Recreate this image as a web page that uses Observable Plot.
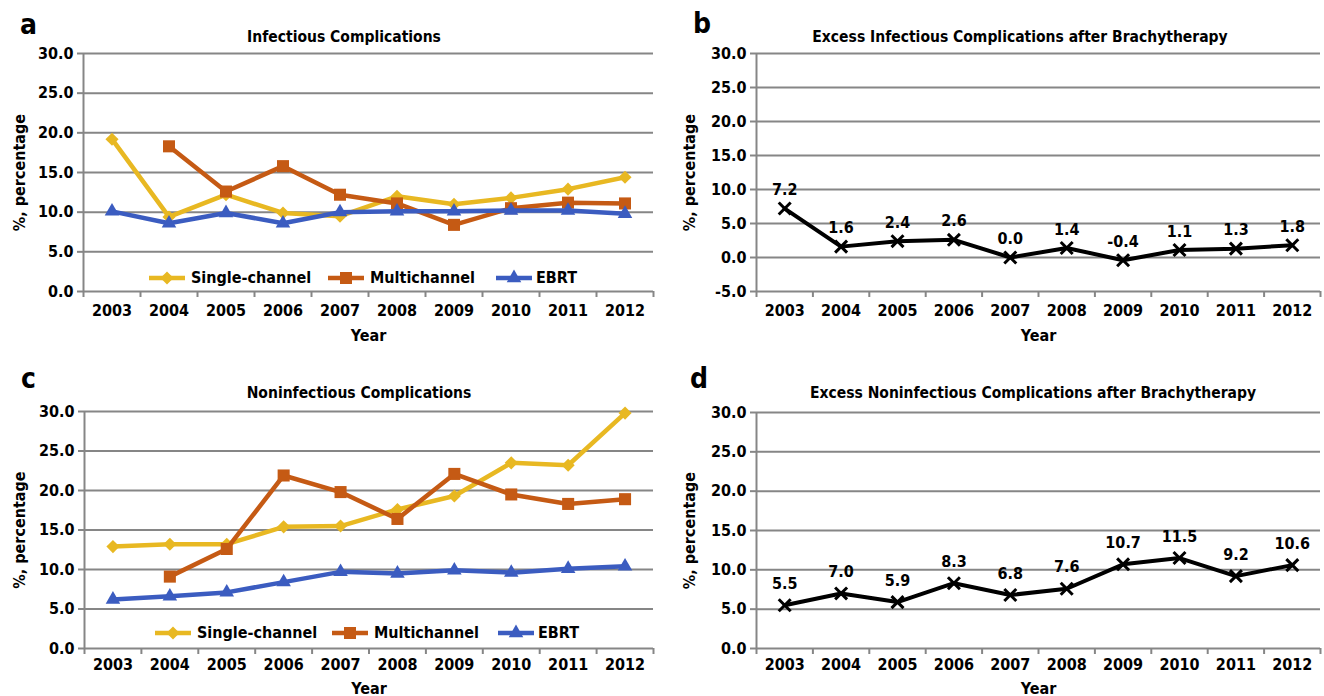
<!DOCTYPE html>
<html>
<head>
<meta charset="utf-8">
<script src="https://cdn.jsdelivr.net/npm/d3@7"></script>
<script src="https://cdn.jsdelivr.net/npm/@observablehq/plot@0.6"></script>
<style>
  body { margin: 0; background: #fff; }
  #root { position: relative; width: 1324px; height: 696px; overflow: hidden;
          font-family: "DejaVu Sans Condensed", "DejaVu Sans", sans-serif; font-stretch: condensed;
          font-weight: bold; color: #000; }
  .panel { position: absolute; }
  .letter { position: absolute; font-size: 28px; line-height: 1; }
  .title { position: absolute; font-size: 15.5px; line-height: 1; white-space: nowrap; transform: translateX(-50%); }
  .legitem { position: absolute; display: flex; align-items: center; font-size: 16px; line-height: 1; white-space: nowrap; transform: translateY(-50%); }
  .legitem svg { display: block; overflow: visible; }
</style>
</head>
<body>
<div id="root"></div>
<script>
// ---------- data ----------
const years = [2003, 2004, 2005, 2006, 2007, 2008, 2009, 2010, 2011, 2012];
const seriesNames = ["Single-channel", "Multichannel", "EBRT"];
const panelLetters = ["a", "b", "c", "d"];
const panelTitles = [
  "Infectious Complications",
  "Excess Infectious Complications after Brachytherapy",
  "Noninfectious Complications",
  "Excess Noninfectious Complications after Brachytherapy"
];
const yLabel = "%, percentage";
const xLabel = "Year";

// a: infectious complications (%)
const infSingle = [19.2, 9.4, 12.2, 9.9, 9.5, 12.0, 11.0, 11.8, 12.9, 14.4];
const infMulti  = [null, 18.3, 12.6, 15.8, 12.2, 11.1, 8.4, 10.5, 11.2, 11.1];
const infEbrt   = [10.1, 8.6, 9.9, 8.6, 10.0, 10.1, 10.1, 10.2, 10.2, 9.8];
// b: excess infectious complications (%)
const excessInf = [7.2, 1.6, 2.4, 2.6, 0.0, 1.4, -0.4, 1.1, 1.3, 1.8];
// c: noninfectious complications (%)
const nonSingle = [12.9, 13.2, 13.2, 15.4, 15.5, 17.6, 19.3, 23.5, 23.2, 29.8];
const nonMulti  = [null, 9.1, 12.6, 21.9, 19.8, 16.4, 22.1, 19.5, 18.3, 18.9];
const nonEbrt   = [6.2, 6.6, 7.1, 8.4, 9.7, 9.5, 9.9, 9.6, 10.1, 10.4];
// d: excess noninfectious complications (%)
const excessNon = [5.5, 7.0, 5.9, 8.3, 6.8, 7.6, 10.7, 11.5, 9.2, 10.6];

const ticksAC = [0, 5, 10, 15, 20, 25, 30];
const ticksB  = [-5, 0, 5, 10, 15, 20, 25, 30];
const ticksD  = [0, 5, 10, 15, 20, 25, 30];

// ---------- styles ----------
const FONT = '"DejaVu Sans Condensed", "DejaVu Sans", sans-serif';
const GRID = "#868686";
const COLORS = ["#E8B822", "#C55A14", "#3B5CC0"];
const SYMBOLS = ["diamond2", "square", "triangle"];
const RADII = [5.9, 6.8, 5.4];
const boundaries = years.map(y => y - 0.5).concat([years[years.length - 1] + 0.5]);
const fmt1 = d => (+d).toFixed(1);

function basePanel(o) {
  return Plot.plot({
    width: o.width, height: o.height,
    marginLeft: o.ml, marginRight: o.mr, marginTop: o.mt, marginBottom: o.mb,
    style: { fontFamily: FONT, fontSize: "16px", fontWeight: "bold", fontStretch: "condensed",
             color: "black", background: "white", overflow: "visible" },
    x: { type: "linear", domain: [boundaries[0], boundaries[boundaries.length - 1]] },
    y: { domain: [o.ticks[0], o.ticks[o.ticks.length - 1]] },
    marks: [
      Plot.gridY(o.ticks, { stroke: GRID, strokeOpacity: 1, strokeWidth: 2 }),
      Plot.ruleX([boundaries[0]], { stroke: GRID, strokeWidth: 2 }),
      Plot.axisY(o.ticks, {
        tickFormat: fmt1, tickSize: 6, tickPadding: 4, stroke: GRID, strokeWidth: 2,
        fill: "black", fontSize: 16, fontWeight: "bold",
        label: yLabel, labelAnchor: "center", labelOffset: o.ylo, labelArrow: "none"
      }),
      Plot.axisX(boundaries, { tickSize: 6, tickFormat: () => "", stroke: GRID, strokeWidth: 2, label: null }),
      Plot.axisX(years, {
        tickSize: 0, tickPadding: o.xtp, tickFormat: d => String(d), fill: "black",
        fontSize: 16, fontWeight: "bold",
        label: xLabel, labelAnchor: "center", labelOffset: o.xlo, labelArrow: "none"
      }),
      ...o.marks
    ]
  });
}

function seriesMarks(arrs) {
  const m = [];
  arrs.forEach((arr, i) => {
    m.push(Plot.line(arr, { x: years, y: Plot.identity, stroke: COLORS[i], strokeWidth: 4.5 }));
    m.push(Plot.dot(arr, { x: years, y: Plot.identity, symbol: SYMBOLS[i], r: RADII[i], fill: COLORS[i], stroke: "none" }));
  });
  return m;
}

function excessMarks(arr, dy) {
  return [
    Plot.line(arr, { x: years, y: Plot.identity, stroke: "black", strokeWidth: 4 }),
    Plot.dot(arr, { x: years, y: Plot.identity, symbol: "times", r: 5.5, stroke: "black", strokeWidth: 3 }),
    Plot.text(arr, { x: years, y: Plot.identity, text: d => fmt1(d), dy: dy, fill: "black",
                     fontSize: 16, fontWeight: "bold" })
  ];
}

const root = document.getElementById("root");
function place(el, left, top) {
  const d = document.createElement("div");
  d.className = "panel";
  d.style.left = left + "px"; d.style.top = top + "px";
  d.appendChild(el); root.appendChild(d);
}

place(basePanel({ width: 660, height: 303, ml: 83, mr: 7, mt: 13, mb: 52, ticks: ticksAC,
  ylo: 69.5, xtp: 13, xlo: 49, marks: seriesMarks([infSingle, infMulti, infEbrt]) }), 0, 40);
place(basePanel({ width: 664, height: 303, ml: 96, mr: 4, mt: 13, mb: 52, ticks: ticksB,
  ylo: 72.5, xtp: 13, xlo: 49, marks: excessMarks(excessInf, -18.5) }), 660, 40);
place(basePanel({ width: 660, height: 298, ml: 84, mr: 7, mt: 13, mb: 48, ticks: ticksAC,
  ylo: 70.5, xtp: 10, xlo: 45, marks: seriesMarks([nonSingle, nonMulti, nonEbrt]) }), 0, 398);
place(basePanel({ width: 664, height: 298, ml: 96, mr: 4, mt: 14, mb: 48, ticks: ticksD,
  ylo: 72.5, xtp: 10, xlo: 45, marks: excessMarks(excessNon, -21.5) }), 660, 398);

// panel letters and titles (baseline-based placement)
const letterPos = [[20, 35], [693, 34], [21, 389], [690, 389]];
letterPos.forEach(([x, base], i) => {
  const d = document.createElement("div");
  d.className = "letter"; d.textContent = panelLetters[i];
  d.style.left = x + "px"; d.style.top = (base - 0.846 * 28) + "px";
  root.appendChild(d);
});
const titlePos = [[344, 43], [1020, 43], [359, 399], [1033, 399]];
titlePos.forEach(([cx, base], i) => {
  const d = document.createElement("div");
  d.className = "title"; d.textContent = panelTitles[i];
  d.style.left = cx + "px"; d.style.top = (base - 0.846 * 15.5) + "px";
  root.appendChild(d);
});

// legends (inside panels a and c)
const legendRows = [
  { cy: 278, xs: [149, 328, 496] },
  { cy: 633, xs: [155, 332, 498] }
];
const symMap = { diamond2: d3.symbolDiamond2, square: d3.symbolSquare, triangle: d3.symbolTriangle };
legendRows.forEach(row => {
  seriesNames.forEach((name, i) => {
    const item = document.createElement("div");
    item.className = "legitem";
    item.style.left = row.xs[i] + "px"; item.style.top = row.cy + "px";
    const sw = d3.create("svg").attr("width", 36).attr("height", 14);
    sw.append("line").attr("x1", 0).attr("x2", 36).attr("y1", 7).attr("y2", 7)
      .attr("stroke", COLORS[i]).attr("stroke-width", 4.5);
    sw.append("path").attr("transform", "translate(18,7)")
      .attr("d", d3.symbol(symMap[SYMBOLS[i]], Math.PI * RADII[i] * RADII[i])())
      .attr("fill", COLORS[i]);
    item.appendChild(sw.node());
    const t = document.createElement("span");
    t.textContent = name; t.style.marginLeft = (i === 2 ? 4 : 6) + "px";
    item.appendChild(t);
    root.appendChild(item);
  });
});
</script>
</body>
</html>
